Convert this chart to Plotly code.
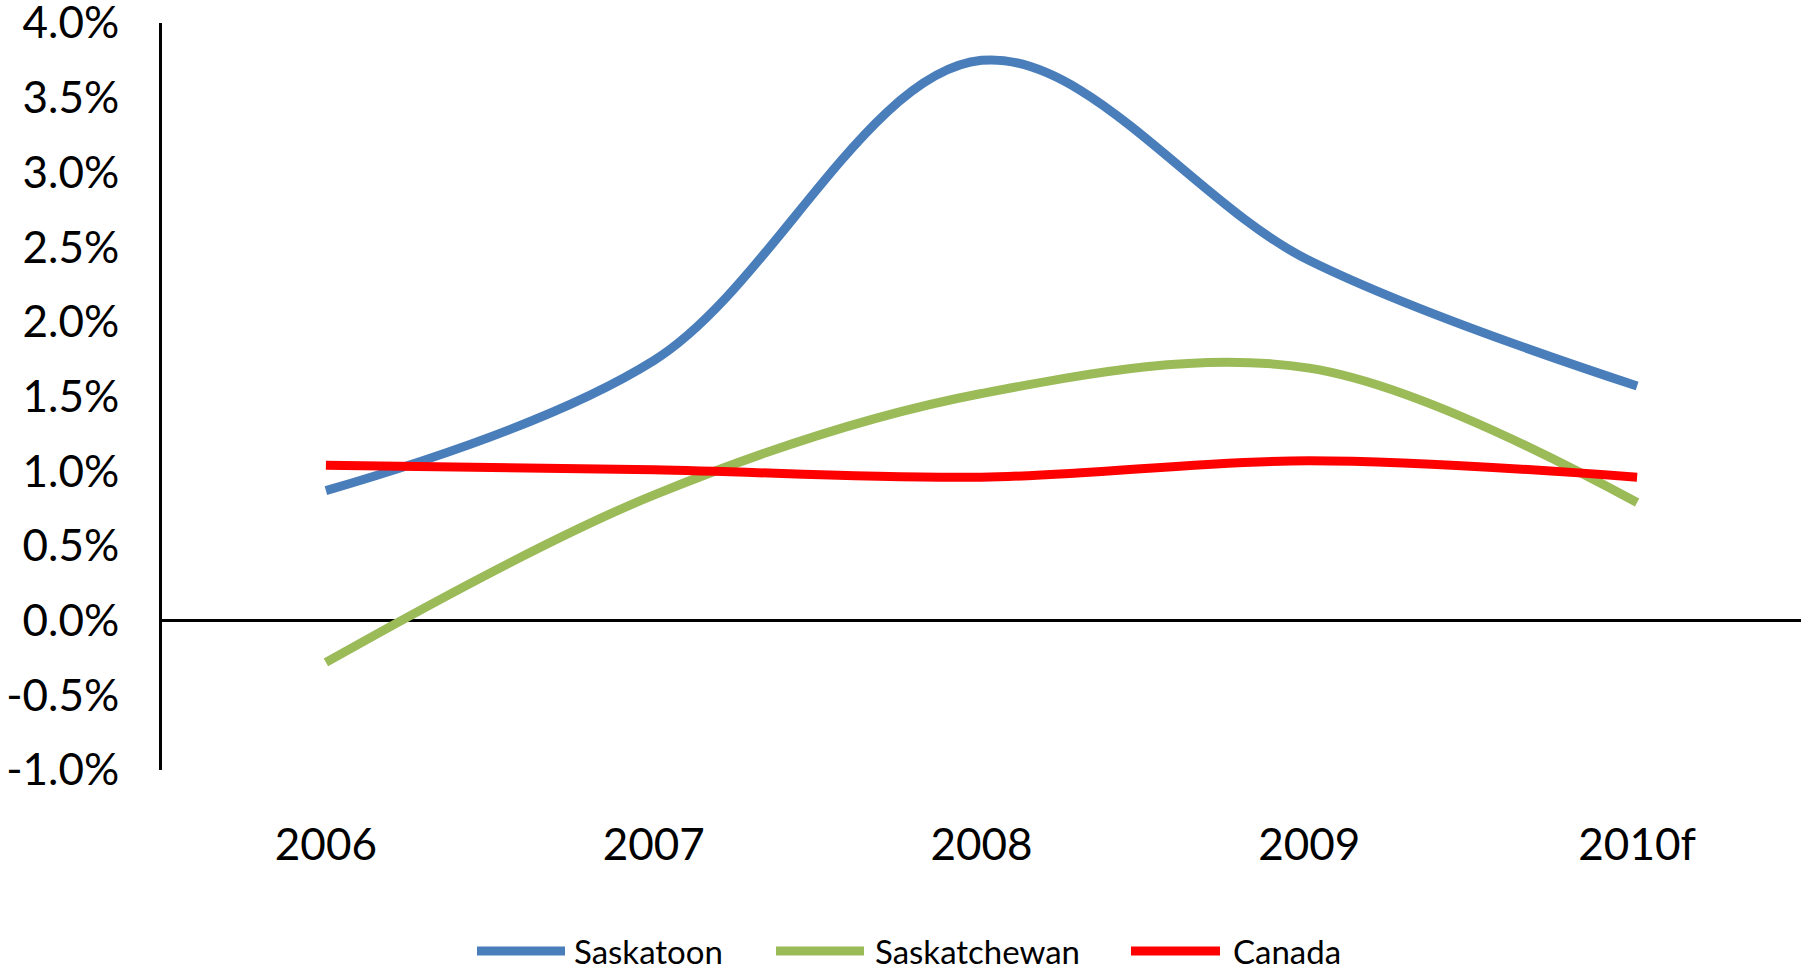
import plotly.graph_objects as go

# Annual growth rates (%)
years = ["2006", "2007", "2008", "2009", "2010f"]
saskatoon = [0.87, 1.74, 3.75, 2.41, 1.57]
saskatchewan = [-0.28, 0.84, 1.52, 1.69, 0.79]
canada = [1.04, 1.01, 0.96, 1.07, 0.96]

y_tickvals = [-1.0, -0.5, 0.0, 0.5, 1.0, 1.5, 2.0, 2.5, 3.0, 3.5, 4.0]
y_ticktext = ["-1.0%", "-0.5%", "0.0%", "0.5%", "1.0%", "1.5%", "2.0%",
              "2.5%", "3.0%", "3.5%", "4.0%"]

series = [
    ("Saskatoon", saskatoon, "#4A7EBB"),
    ("Saskatchewan", saskatchewan, "#9BBB59"),
    ("Canada", canada, "#FF0000"),
]

FONT = "Lato, 'Open Sans', sans-serif"
W, H = 1801, 971
ML, MR, MT, MB = 162, 0, 23, 201

fig = go.Figure()
for name, vals, color in series:
    fig.add_trace(go.Scatter(
        x=years, y=vals, name=name, mode="lines",
        line=dict(color=color, width=9, shape="spline", smoothing=1.0),
        showlegend=False,
    ))

# Legend drawn below the chart: a short swatch followed by the series name
plot_w = W - ML - MR
plot_h = H - MT - MB
legend_y_px = 951
legend_items = [(477, 565, 572), (776, 864, 873), (1131, 1220, 1231)]

def px_to_paper_x(px):
    return (px - ML) / plot_w

def px_to_paper_y(py):
    return (H - MB - py) / plot_h

ly = px_to_paper_y(legend_y_px)
for (name, _, color), (x0, x1, xt) in zip(series, legend_items):
    fig.add_shape(type="line", xref="paper", yref="paper",
                  x0=px_to_paper_x(x0), x1=px_to_paper_x(x1), y0=ly, y1=ly,
                  line=dict(color=color, width=9))
    fig.add_annotation(xref="paper", yref="paper",
                       x=px_to_paper_x(xt), y=ly, text=name,
                       showarrow=False, xanchor="left", yanchor="middle",
                       font=dict(family=FONT, size=33, color="black"))

fig.update_layout(
    width=W, height=H,
    margin=dict(l=ML, r=MR, t=MT, b=MB, pad=0, autoexpand=False),
    paper_bgcolor="white", plot_bgcolor="white",
    font=dict(family=FONT, size=44, color="black"),
    xaxis=dict(
        type="category", range=[-0.5, 4.5], automargin=False,
        showgrid=False, showline=False, zeroline=False,
        ticks="", ticklabelstandoff=45, ticklabeloverflow="allow",
        tickfont=dict(family=FONT, size=44, color="black"),
    ),
    yaxis=dict(
        range=[-1.0, 4.0], tickvals=y_tickvals, ticktext=y_ticktext,
        automargin=False,
        showgrid=False, showline=True, linecolor="black", linewidth=3,
        zeroline=True, zerolinecolor="black", zerolinewidth=3,
        ticks="", ticklabelstandoff=31, ticklabeloverflow="allow",
        tickfont=dict(family=FONT, size=44, color="black"),
    ),
)

fig.write_html("out.html")
